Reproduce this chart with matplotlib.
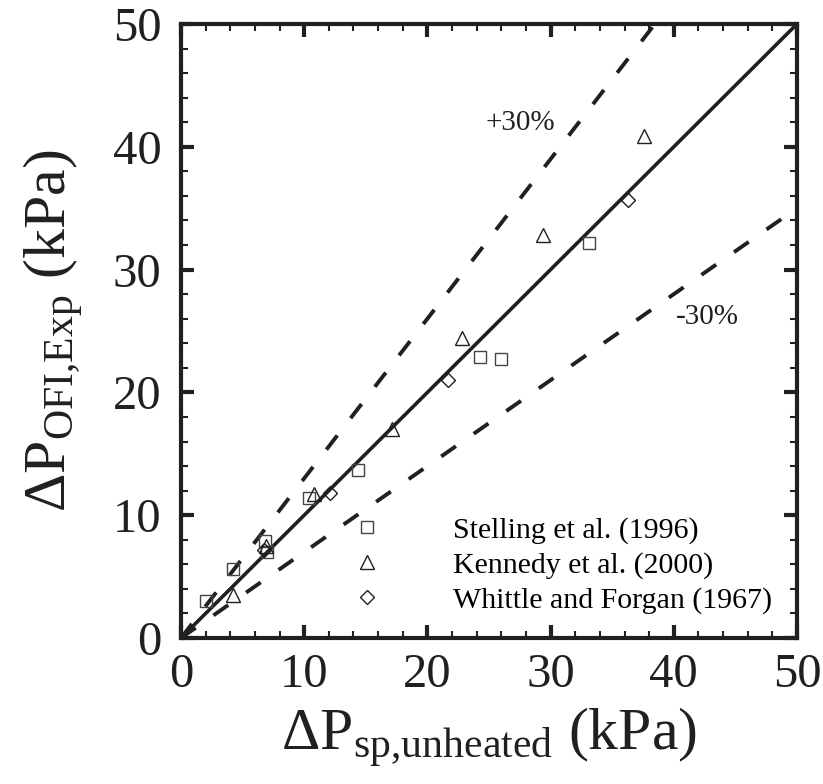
import matplotlib
matplotlib.use("Agg")
import matplotlib.pyplot as plt
import numpy as np

plt.rcParams["font.family"] = ["Liberation Serif", "DejaVu Serif"]
plt.rcParams["mathtext.fontset"] = "custom"
plt.rcParams["mathtext.rm"] = "Liberation Serif"
plt.rcParams["mathtext.it"] = "Liberation Serif:italic"

# data (kPa)
stelling_x = [2.0, 4.2, 6.8, 7.0, 10.4, 14.4, 24.3, 26.0, 33.1]
stelling_y = [3.0, 5.6, 7.9, 7.0, 11.4, 13.7, 22.9, 22.7, 32.2]
kennedy_x = [4.2, 6.9, 10.8, 17.1, 22.8, 29.4, 37.6]
kennedy_y = [3.5, 7.5, 11.7, 17.0, 24.4, 32.8, 40.9]
whittle_x = [6.7, 12.1, 21.7, 36.3]
whittle_y = [7.2, 11.8, 21.0, 35.7]

diag = np.array([0, 50])
band = 0.30
ink = "#231f20"

fig = plt.figure(figsize=(8.23, 7.84), dpi=100)
ax = fig.add_axes([0.2199, 0.1862, 0.7485, 0.7832])

ax.plot(diag, diag, color=ink, lw=2.6)
ax.plot(diag, diag * (1 + band), color=ink, lw=2.8, dashes=(4.6, 5.6))
ax.plot(diag, diag * (1 - band), color=ink, lw=2.8, dashes=(4.6, 5.6))

mk = dict(linestyle="none", markerfacecolor="none", markeredgewidth=1.0)
ax.plot(stelling_x, stelling_y, marker="s", markersize=9, color="#444444",
        label="Stelling et al. (1996)", **mk)
ax.plot(kennedy_x, kennedy_y, marker="^", markersize=10.5, color=ink,
        label="Kennedy et al. (2000)", **mk)
ax.plot(whittle_x, whittle_y, marker="D", markersize=7.5, color=ink,
        label="Whittle and Forgan (1967)", **mk)

ax.text(24.7, 41.9, "+30%", fontsize=21, color=ink, va="center")
ax.text(40.2, 26.1, "-30%", fontsize=21, color=ink, va="center")

ax.set_xlim(0, 50)
ax.set_ylim(0, 50)
ax.set_xticks([0, 10, 20, 30, 40, 50])
ax.set_yticks([0, 10, 20, 30, 40, 50])
ax.set_xticks(np.arange(0, 51, 2), minor=True)
ax.set_yticks(np.arange(0, 51, 2), minor=True)
ax.tick_params(which="both", direction="in", top=True, right=True, colors=ink)
ax.tick_params(which="major", length=9.5, width=3, labelsize=35)
ax.tick_params(which="minor", length=5, width=1.5)
ax.tick_params(axis="y", which="major", pad=14)
ax.tick_params(axis="x", which="major", pad=11)
for s in ax.spines.values():
    s.set_linewidth(3)
    s.set_color(ink)

ax.set_xlabel(r"$\Delta\mathregular{P}_{\mathregular{sp{,}unheated}}$ (kPa)",
              fontsize=43, color=ink, labelpad=6)
ax.set_ylabel(r"$\Delta\mathregular{P}_{\mathregular{OFI{,}Exp}}$ (kPa)",
              fontsize=43, color=ink, labelpad=20)

ax.legend(loc="lower right", bbox_to_anchor=(0.999, 0.0), frameon=False,
          fontsize=21.5, handlelength=1.0, handletextpad=2.4,
          labelspacing=0.26, borderpad=0.3)

fig.savefig("out.png", dpi=100)
